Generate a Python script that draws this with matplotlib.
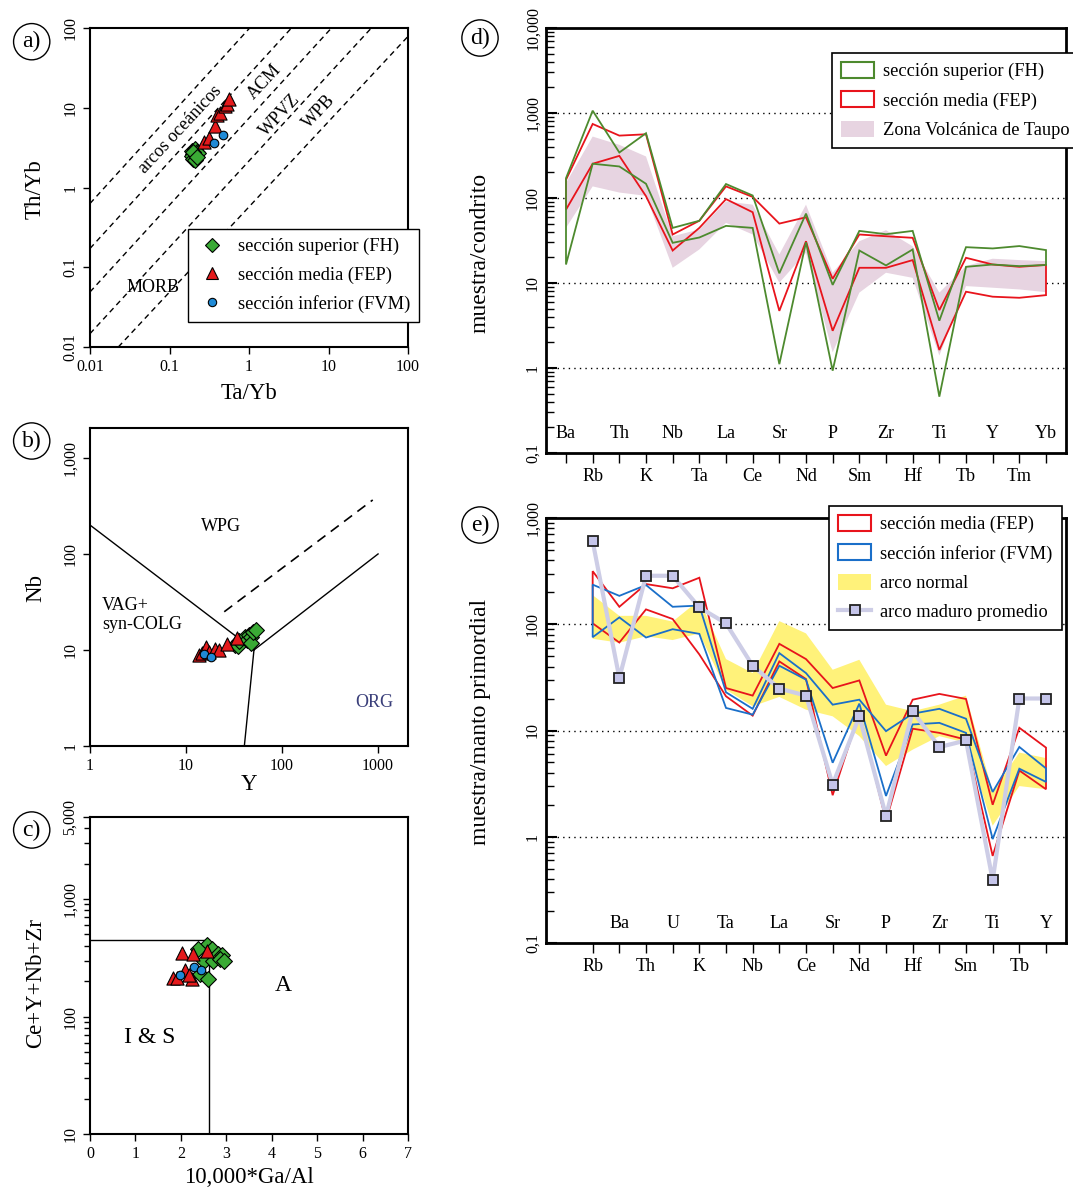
import matplotlib.pyplot as plt
import numpy as np
from matplotlib.patches import Patch
from matplotlib.lines import Line2D
from matplotlib.ticker import LogLocator, NullFormatter, FixedLocator

plt.rcParams['font.family'] = ['Liberation Serif', 'DejaVu Serif']

# ---- panel a: Th/Yb vs Ta/Yb ----
fh_ta_yb = [0.19, 0.20, 0.21, 0.22, 0.19, 0.20, 0.21, 0.23, 0.20, 0.22]
fh_th_yb = [2.9, 2.6, 3.0, 2.8, 2.5, 2.3, 2.2, 2.7, 2.8, 2.4]
fep_ta_yb = [0.27, 0.31, 0.37, 0.40, 0.43, 0.50, 0.53, 0.56]
fep_th_yb = [3.7, 4.2, 5.9, 8.0, 8.6, 10.5, 11.2, 13.0]
fvm_ta_yb = [0.36, 0.47]
fvm_th_yb = [3.6, 4.6]
# boundary lines (start point, end point)
a_lines = [((0.01, 0.63), (1.02, 100)),
           ((0.01, 0.172), (3.42, 100)),
           ((0.01, 0.049), (10.9, 100)),
           ((0.01, 0.0147), (34.6, 100)),
           ((0.0227, 0.01), (100, 78.5))]

# ---- panel b: Nb vs Y ----
fh_y = [32, 35, 36, 41, 43, 45, 47, 48, 50, 53]
fh_nb = [11.2, 11.0, 12.3, 13.8, 12.7, 14.3, 13.6, 11.8, 15.5, 16.0]
fep_y = [13.5, 14.5, 16.2, 17.2, 20, 22, 27, 34]
fep_nb = [8.8, 9.2, 10.8, 9.5, 10.2, 10.0, 11.5, 13.2]
fvm_y = [15.5, 18.2]
fvm_nb = [9.0, 8.4]

# ---- panel c: Ce+Y+Nb+Zr vs 10000*Ga/Al ----
fh_ga = [2.57, 2.68, 2.38, 2.51, 2.71, 2.82, 2.90, 2.87, 2.95, 2.43, 2.60]
fh_sum = [408, 377, 377, 295, 295, 340, 335, 310, 295, 230, 208]
fep_ga = [2.03, 2.26, 2.57, 2.10, 1.83, 1.92, 2.25, 2.18]
fep_sum = [347, 338, 359, 247, 215, 215, 210, 227]
fvm_ga = [2.29, 2.44, 1.98]
fvm_sum = [262, 250, 224]

# ---- panel d: chondrite normalised ----
d_elements = ['Ba', 'Rb', 'Th', 'K', 'Nb', 'Ta', 'La', 'Ce', 'Sr', 'Nd',
              'P', 'Sm', 'Zr', 'Hf', 'Ti', 'Tb', 'Y', 'Tm', 'Yb']
fh_upper = [171, 1065, 343, 578, 44.5, 54, 146, 107, 13, 65.5,
            9.5, 41, 37.5, 41, 3.6, 26.4, 25.5, 27.2, 24.4]
fh_lower = [16.5, 253, 235, 147, 29.7, 34.3, 47, 44.5, 1.11, 30.2,
            0.93, 24.1, 16.1, 24.8, 0.46, 15.5, 16.5, 15.8, 16.3]
fep_upper = [164, 743, 542, 562, 37.2, 54, 137, 103, 50, 59.3,
             11.2, 37.2, 35.5, 34, 4.8, 19.8, 16.5, 15.5, 16.3]
fep_lower = [73, 253, 313, 105, 24.1, 44.5, 97, 68, 4.7, 31,
             2.74, 15.1, 15.1, 18.6, 1.63, 7.9, 6.9, 6.7, 7.2]
taupo_upper = [150, 528, 422, 308, 35.5, 42.6, 91, 83.5, 21.7, 83.5,
               13.2, 31, 41.8, 27, 7.7, 15.8, 19.3, 18.6, 18.1]
taupo_lower = [44.5, 137, 116, 106, 15.1, 24.8, 51, 37.2, 10.1, 22.7,
               1.53, 7.7, 13.2, 11.5, 1.4, 9.2, 8.8, 8.4, 7.8]

# ---- panel e: primitive mantle normalised ----
e_elements = ['Rb', 'Ba', 'Th', 'U', 'K', 'Ta', 'Nb', 'La', 'Ce', 'Sr',
              'Nd', 'P', 'Hf', 'Zr', 'Sm', 'Ti', 'Tb', 'Y']
fep_e_upper = [316, 146, 239, 218, 274, 25.1, 21.3, 65.4, 47, 25.1,
               29.6, 5.8, 19.5, 22.1, 19.8, 2.0, 10.6, 6.9]
fep_e_lower = [102, 67.3, 138, 112, 52, 21, 13.8, 44.7, 30.5, 2.46,
               14.6, 1.41, 10.4, 9.5, 8.2, 0.66, 4.2, 2.8]
fvm_e_upper = [236, 185, 234, 146, 150, 22.9, 16, 53.5, 34.7, 17.5,
               19.5, 9.86, 14.4, 16, 12.9, 2.64, 7.0, 4.4]
fvm_e_lower = [75.5, 116, 75, 89.8, 81.2, 16.3, 14.1, 40.7, 30.1, 4.97,
               17.9, 2.42, 11.4, 11.8, 9.5, 0.95, 4.37, 3.28]
arc_normal_upper = [188, 120, 120, 106, 169, 47, 34.7, 107, 82, 37.3,
                    46.3, 17.5, 15.2, 17.5, 21.3, 2.64, 6.2, 5.5]
arc_normal_lower = [73, 67, 77, 71, 82, 24.2, 16.9, 20.7, 15.7, 13.6,
                    8.85, 4.63, 6.6, 8.85, 7.66, 1.27, 3.0, 2.8]
arc_mature = [604, 31.2, 286, 286, 144, 102, 40.7, 24.8, 21.3, 3.1,
              13.6, 1.57, 15.2, 6.98, 8.06, 0.39, 20, 20]

# colours
c_green_pt = '#3aaa35'
c_red_pt = '#e41a1c'
c_blue_pt = '#1f8ad6'
c_green_ln = '#4d8a2e'
c_red_ln = '#e8141c'
c_blue_ln = '#1a6fc9'
c_pink = '#e7d4e1'
c_yellow = '#fff27a'
c_lav = '#cdcde6'

fig = plt.figure(figsize=(10.73, 11.91), dpi=100)

FS_TICK = 11.5
FS_LAB = 16.5
FS_LEG = 13.2


def scatter_groups(ax, xs, ys):
    ax.scatter(xs[0], ys[0], marker='D', s=65, c=c_green_pt, edgecolors='k', linewidths=0.8, zorder=3)
    ax.scatter(xs[1], ys[1], marker='^', s=90, c=c_red_pt, edgecolors='k', linewidths=0.8, zorder=3)
    ax.scatter(xs[2], ys[2], marker='o', s=38, c=c_blue_pt, edgecolors='k', linewidths=0.8, zorder=3)


def style_small(ax):
    for s in ax.spines.values():
        s.set_linewidth(1.5)
    ax.tick_params(which='both', direction='out', labelsize=FS_TICK, width=1)
    ax.tick_params(which='major', length=5)
    ax.tick_params(which='minor', length=4)
    for lab in ax.get_yticklabels():
        lab.set_rotation(90)
        lab.set_va('center')


# ---------------- a ----------------
ax = fig.add_axes([90 / 1073, 1 - 347 / 1191, 318 / 1073, 319 / 1191])
ax.set_xscale('log')
ax.set_yscale('log')
ax.set_xlim(0.01, 100)
ax.set_ylim(0.01, 100)
for p0, p1 in a_lines:
    ax.plot([p0[0], p1[0]], [p0[1], p1[1]], 'k--', lw=1, dashes=(4, 3))
scatter_groups(ax, [fh_ta_yb, fep_ta_yb, fvm_ta_yb], [fh_th_yb, fep_th_yb, fvm_th_yb])
ticks = [0.01, 0.1, 1, 10, 100]
ax.xaxis.set_minor_locator(plt.NullLocator())
ax.yaxis.set_minor_locator(plt.NullLocator())
ax.set_xticks(ticks, ['0.01', '0.1', '1', '10', '100'])
ax.set_yticks(ticks, ['0.01', '0.1', '1', '10', '100'])
style_small(ax)
ax.set_xlabel('Ta/Yb', fontsize=FS_LAB)
ax.set_ylabel('Th/Yb', fontsize=FS_LAB)
ax.xaxis.set_label_coords(0.5, -0.114)
ax.yaxis.set_label_coords(-0.139, 0.495)
ax.text(0.135, 5.3, 'arcos oceánicos', rotation=47, rotation_mode='anchor', ha='center', va='center', fontsize=13)
ax.text(1.58, 21, 'ACM', rotation=47, rotation_mode='anchor', ha='center', va='center', fontsize=13)
ax.text(2.44, 8.1, 'WPVZ', rotation=47, rotation_mode='anchor', ha='center', va='center', fontsize=13)
ax.text(7.5, 8.9, 'WPB', rotation=47, rotation_mode='anchor', ha='center', va='center', fontsize=13)
ax.text(0.062, 0.056, 'MORB', ha='center', va='center', fontsize=13)
h = [Line2D([], [], ls='none', marker='D', ms=7.5, mfc=c_green_pt, mec='k', mew=0.8),
     Line2D([], [], ls='none', marker='^', ms=9, mfc=c_red_pt, mec='k', mew=0.8),
     Line2D([], [], ls='none', marker='o', ms=6, mfc=c_blue_pt, mec='k', mew=0.8)]
leg = ax.legend(h, ['sección superior (FH)', 'sección media (FEP)', 'sección inferior (FVM)'],
                loc='upper left', bbox_to_anchor=(188 / 1073, 1 - 229 / 1191), bbox_transform=fig.transFigure,
                fontsize=FS_LEG, fancybox=False, edgecolor='k', framealpha=1, borderaxespad=0,
                handlelength=1.6, handletextpad=0.6, borderpad=0.5, labelspacing=0.6)
leg.get_frame().set_linewidth(1)

# ---------------- b ----------------
ax = fig.add_axes([90 / 1073, 1 - 746 / 1191, 318 / 1073, 318 / 1191])
ax.set_xscale('log')
ax.set_yscale('log')
ax.set_xlim(1, 2050)
ax.set_ylim(1, 2050)
ax.plot([1, 51], [200, 10], 'k-', lw=1)
ax.plot([51, 1000], [10, 100], 'k-', lw=1)
ax.plot([51, 40.5], [10, 1], 'k-', lw=1)
ax.plot([25, 880], [25, 365], 'k--', lw=1.2, dashes=(6, 4))
scatter_groups(ax, [fh_y, fep_y, fvm_y], [fh_nb, fep_nb, fvm_nb])
ax.xaxis.set_minor_locator(plt.NullLocator())
ax.yaxis.set_minor_locator(plt.NullLocator())
ax.set_xticks([1, 10, 100, 1000], ['1', '10', '100', '1000'])
ax.set_yticks([1, 10, 100, 1000], ['1', '10', '100', '1,000'])
style_small(ax)
ax.set_xlabel('Y', fontsize=FS_LAB)
ax.set_ylabel('Nb', fontsize=FS_LAB)
ax.xaxis.set_label_coords(0.5, -0.088)
ax.yaxis.set_label_coords(-0.139, 0.496)
ax.text(23, 195, 'WPG', ha='center', va='center', fontsize=13)
ax.text(1.33, 23, 'VAG+\nsyn-COLG', ha='left', va='center', fontsize=13, linespacing=1.15)
ax.text(908, 2.87, 'ORG', ha='center', va='center', fontsize=13, color='#3a3f7a')

# ---------------- c ----------------
ax = fig.add_axes([90 / 1073, 1 - 1134 / 1191, 318 / 1073, 317 / 1191])
ax.set_yscale('log')
ax.set_xlim(0, 7)
ax.set_ylim(10, 5000)
ax.plot([0, 2.62], [450, 450], 'k-', lw=1)
ax.plot([2.62, 2.62], [10, 450], 'k-', lw=1)
scatter_groups(ax, [fh_ga, fep_ga, fvm_ga], [fh_sum, fep_sum, fvm_sum])
ax.set_xticks(range(8))
ax.set_yticks([10, 100, 1000, 5000], ['10', '100', '1,000', '5,000'])
ax.yaxis.set_minor_locator(FixedLocator([v * m for m in (10, 100) for v in range(2, 10)] + [2000, 3000, 4000]))
ax.yaxis.set_minor_formatter(NullFormatter())
style_small(ax)
ax.set_xlabel('10,000*Ga/Al', fontsize=FS_LAB)
ax.set_ylabel('Ce+Y+Nb+Zr', fontsize=FS_LAB)
ax.xaxis.set_label_coords(0.5, -0.103)
ax.yaxis.set_label_coords(-0.139, 0.476)
ax.text(4.25, 185, 'A', ha='center', va='center', fontsize=17)
ax.text(1.32, 66, 'I & S', ha='center', va='center', fontsize=17)


# ---------------- d / e helpers ----------------
def spider_axes(rect, ymin, ymax, ylabels):
    ax = fig.add_axes(rect)
    ax.set_yscale('log')
    ax.set_xlim(-0.75, 18.75)
    ax.set_ylim(ymin, ymax)
    decades = [10.0 ** k for k in range(int(np.log10(ymin)), int(np.log10(ymax)) + 1)]
    ax.set_yticks(decades, ylabels)
    ax.yaxis.set_minor_locator(LogLocator(base=10, subs=np.arange(2, 10)))
    ax.yaxis.set_minor_formatter(NullFormatter())
    for v in decades[1:-1]:
        ax.axhline(v, color='k', ls=(0, (1, 3)), lw=1, zorder=0.5)
    for s in ax.spines.values():
        s.set_linewidth(2)
    ax.tick_params(axis='y', which='major', direction='in', length=8, width=1.5, labelsize=FS_TICK)
    ax.tick_params(axis='y', which='minor', direction='in', length=6, width=1)
    ax.tick_params(axis='x', direction='out', length=7, width=1, labelsize=13, pad=4)
    for lab in ax.get_yticklabels():
        lab.set_rotation(90)
        lab.set_va('center')
    return ax


def element_labels(ax, elements, start):
    pos = list(range(start, start + len(elements)))
    ax.set_xticks(pos, [el if p % 2 == 1 else '' for p, el in zip(pos, elements)])
    for p, el in zip(pos, elements):
        if p % 2 == 0:
            ax.text(p, 0.045, el, transform=ax.get_xaxis_transform(), ha='center', va='center', fontsize=13)
    return pos


def envelope(ax, x, upper, lower, **kw):
    ax.fill(np.r_[x, x[::-1]], np.r_[upper, lower[::-1]], **kw)


# ---------------- d ----------------
ax = spider_axes([546 / 1073, 1 - 453 / 1191, 520 / 1073, 425 / 1191], 0.1, 10000,
                 ['0,1', '1', '10', '100', '1,000', '10,000'])
xd = np.array(element_labels(ax, d_elements, 0))
envelope(ax, xd, np.array(taupo_upper), np.array(taupo_lower), facecolor=c_pink, edgecolor='none', zorder=1)
envelope(ax, xd, np.array(fep_upper), np.array(fep_lower), facecolor='none', edgecolor=c_red_ln, lw=1.3, zorder=2)
envelope(ax, xd, np.array(fh_upper), np.array(fh_lower), facecolor='none', edgecolor=c_green_ln, lw=1.3, zorder=3)
ax.set_ylabel('muestra/condrito', fontsize=FS_LAB + 0.5)
ax.yaxis.set_label_coords(-0.106, 0.47)
h = [Patch(facecolor='none', edgecolor=c_green_ln, lw=1.5),
     Patch(facecolor='none', edgecolor=c_red_ln, lw=1.5),
     Patch(facecolor=c_pink, edgecolor='none')]
leg = ax.legend(h, ['sección superior (FH)', 'sección media (FEP)', 'Zona Volcánica de Taupo'],
                loc='upper left', bbox_to_anchor=(832 / 1073, 1 - 53 / 1191), bbox_transform=fig.transFigure,
                fontsize=FS_LEG, fancybox=False, edgecolor='k', framealpha=1, borderaxespad=0,
                handlelength=1.8, handleheight=0.95, handletextpad=0.5, borderpad=0.5, labelspacing=0.6)
leg.get_frame().set_linewidth(1.2)
leg.set_zorder(10)

# ---------------- e ----------------
ax = spider_axes([546 / 1073, 1 - 943 / 1191, 520 / 1073, 425 / 1191], 0.1, 1000,
                 ['0,1', '1', '10', '100', '1,000'])
xe = np.array(element_labels(ax, e_elements, 1))
envelope(ax, xe, np.array(arc_normal_upper), np.array(arc_normal_lower), facecolor=c_yellow, edgecolor='none', zorder=1)
envelope(ax, xe, np.array(fep_e_upper), np.array(fep_e_lower), facecolor='none', edgecolor=c_red_ln, lw=1.3, zorder=2)
envelope(ax, xe, np.array(fvm_e_upper), np.array(fvm_e_lower), facecolor='none', edgecolor=c_blue_ln, lw=1.3, zorder=3)
ax.plot(xe, arc_mature, '-', color=c_lav, lw=3, zorder=4, marker='s', ms=7, mfc='#c5c5ea', mec='#222222', mew=1.3)
ax.set_ylabel('muestra/manto primordial', fontsize=FS_LAB + 0.5)
ax.yaxis.set_label_coords(-0.106, 0.52)
h = [Patch(facecolor='none', edgecolor=c_red_ln, lw=1.5),
     Patch(facecolor='none', edgecolor=c_blue_ln, lw=1.5),
     Patch(facecolor=c_yellow, edgecolor='none'),
     Line2D([], [], color=c_lav, lw=3, marker='s', ms=7, mfc='#c5c5ea', mec='#222222', mew=1.3)]
leg = ax.legend(h, ['sección media (FEP)', 'sección inferior (FVM)', 'arco normal', 'arco maduro promedio'],
                loc='upper left', bbox_to_anchor=(829 / 1073, 1 - 506 / 1191), bbox_transform=fig.transFigure,
                fontsize=FS_LEG, fancybox=False, edgecolor='k', framealpha=1, borderaxespad=0,
                handlelength=1.8, handleheight=0.95, handletextpad=0.5, borderpad=0.5, labelspacing=0.6)
leg.get_frame().set_linewidth(1.2)
leg.set_zorder(10)

# panel letters
for lx, ly, t in [(31.7, 41.7, 'a)'), (31.7, 441, 'b)'), (31.7, 830, 'c)'),
                  (480, 38, 'd)'), (480, 525, 'e)')]:
    fig.text(lx / 1073, 1 - ly / 1191, t, ha='center', va='center', fontsize=17,
             bbox=dict(boxstyle='circle,pad=0.32', fc='white', ec='black', lw=1))

fig.savefig('out.png', dpi=100)
